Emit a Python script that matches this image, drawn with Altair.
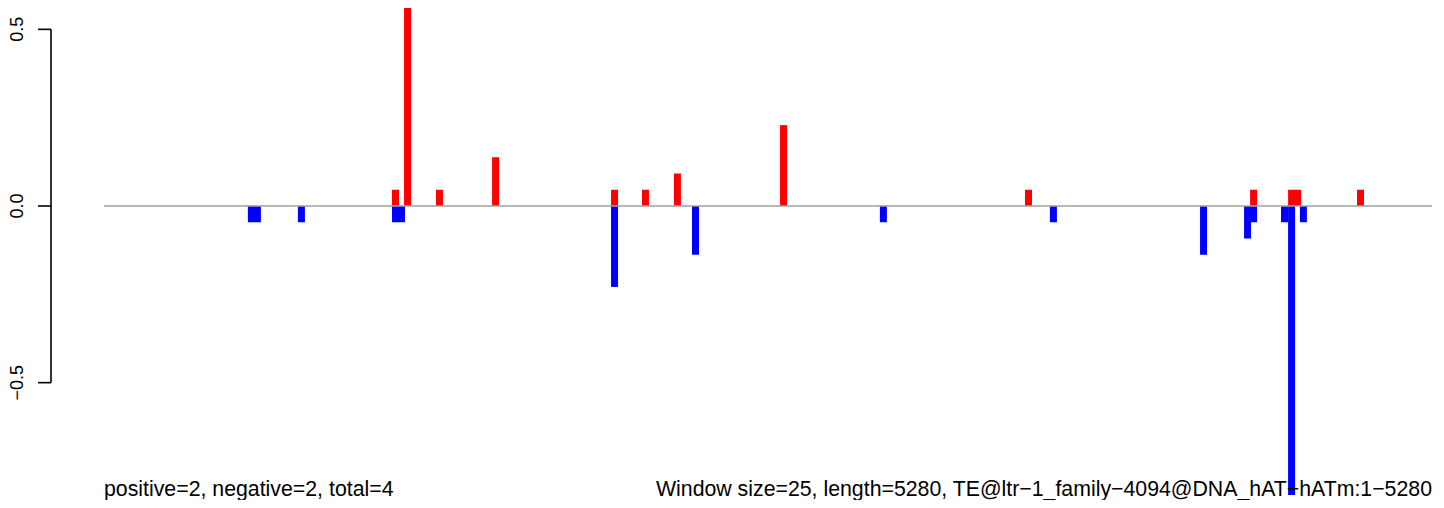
import altair as alt
import pandas as pd

# ---- data ----
pos_x = [1159, 1207, 1334, 1557, 2030, 2153, 2280, 2702, 3676, 4571, 4722, 4746, 4996]
pos_y = [0.046, 0.682, 0.046, 0.138, 0.046, 0.046, 0.092, 0.229, 0.046, 0.046, 0.046, 0.046, 0.046]
neg_x = [586, 610, 785, 1159, 1183, 2030, 2352, 3099, 3775, 4372, 4547, 4571, 4694, 4722, 4769]
neg_y = [-0.046, -0.046, -0.046, -0.046, -0.046, -0.229, -0.138, -0.046, -0.046,
         -0.138, -0.092, -0.046, -0.046, -0.818, -0.046]
y_ticks = [-0.5, 0.0, 0.5]
y_tick_labels = ["−0.5", "0.0", "0.5"]
seq_start = 0
seq_length = 5280
left_note = "positive=2, negative=2, total=4"
right_note = "Window size=25, length=5280, TE@ltr−1_family−4094@DNA_hAT−hATm:1−5280"

FONT = "Liberation Sans"

xs = alt.Scale(domain=[-210.7, 5288.3], nice=False, zero=False, padding=0)
ys = alt.Scale(domain=[-0.8321, 0.5604], nice=False, zero=False, padding=0)

pos_df = pd.DataFrame({"x": pos_x, "v": pos_y})
neg_df = pd.DataFrame({"x": neg_x, "v": neg_y})
tick_df = pd.DataFrame({"t": y_ticks, "lab": y_tick_labels})
axis_df = pd.DataFrame({"a": [min(y_ticks)], "b": [max(y_ticks)]})
base_df = pd.DataFrame({"a": [seq_start], "b": [seq_length], "y": [0.0]})

pos_bars = alt.Chart(pos_df).mark_bar(size=7, color="#FF0000", clip=True).encode(
    x=alt.X("x:Q", scale=xs, axis=None),
    y=alt.Y("v:Q", scale=ys, axis=None),
    y2=alt.datum(0),
)
neg_bars = alt.Chart(neg_df).mark_bar(size=7, color="#0000FF", clip=True).encode(
    x=alt.X("x:Q", scale=xs, axis=None),
    y=alt.Y("v:Q", scale=ys, axis=None),
    y2=alt.datum(0),
)
baseline = alt.Chart(base_df).mark_rule(color="#A0A0A0", strokeWidth=1.7).encode(
    x=alt.X("a:Q", scale=xs, axis=None),
    x2="b:Q",
    y=alt.Y("y:Q", scale=ys, axis=None),
)
axis_line = alt.Chart(axis_df).mark_rule(color="black", strokeWidth=1.6).encode(
    x=alt.value(0),
    y=alt.Y("a:Q", scale=ys, axis=None),
    y2="b:Q",
)
axis_ticks = alt.Chart(tick_df).mark_rule(color="black", strokeWidth=1.6).encode(
    x=alt.value(-13),
    x2=alt.value(0),
    y=alt.Y("t:Q", scale=ys, axis=None),
)
axis_labels = alt.Chart(tick_df).mark_text(
    angle=270, align="center", baseline="alphabetic", fontSize=18, font=FONT, color="black"
).encode(
    x=alt.value(-28),
    y=alt.Y("t:Q", scale=ys, axis=None),
    text="lab:N",
)
left_text = alt.Chart(pd.DataFrame({"t": [left_note]})).mark_text(
    align="left", baseline="alphabetic", fontSize=21.3, font=FONT, color="black"
).encode(x=alt.value(53), y=alt.value(487.8), text="t:N")
right_text = alt.Chart(pd.DataFrame({"t": [right_note]})).mark_text(
    align="right", baseline="alphabetic", fontSize=21.3, font=FONT, color="black"
).encode(x=alt.value(1381), y=alt.value(487.8), text="t:N")

chart = alt.layer(
    pos_bars, neg_bars, baseline, axis_line, axis_ticks, axis_labels, left_text, right_text
).properties(
    width=1383,
    height=492,
    padding={"left": 43, "top": 0, "right": 0, "bottom": 0},
    autosize=alt.AutoSizeParams(type="none"),
).configure_view(stroke=None)

chart.save("out.html", embed_options={"renderer": "svg", "actions": False})
